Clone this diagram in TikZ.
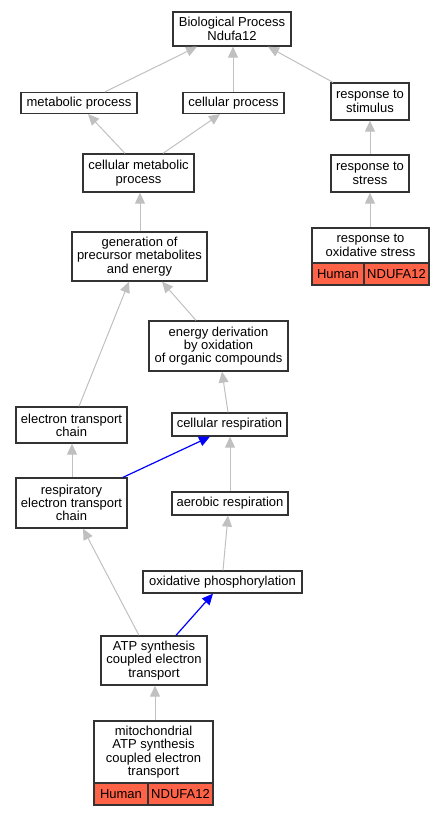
\documentclass[tikz,border=0pt]{standalone}
\usepackage{fontspec}
\setmainfont{Liberation Sans}
\usetikzlibrary{arrows.meta,calc}
\definecolor{tomatoc}{HTML}{FF6347}
\definecolor{edgegray}{HTML}{C0C0C0}
\begin{document}
\begin{tikzpicture}[x=1pt,y=-1pt,
  box/.style={draw=black!80,line width=1.3pt,fill=white,inner sep=0pt,align=center,
    font=\fontsize{13}{13.3}\selectfont},
  cell/.style={box,fill=tomatoc},
  isa/.style={draw=edgegray,line width=1pt,-{Triangle[length=11pt,width=10pt]}},
  part/.style={draw=blue,line width=1.2pt,-{Triangle[length=11pt,width=10pt]}}]
\useasboundingbox (0,0) rectangle (445,816);
\node[box,minimum width=118pt,minimum height=34pt] (bp) at (232,29) {Biological Process\\Ndufa12};
\node[box,minimum width=116pt,minimum height=21pt] (met) at (79,103) {metabolic process};
\node[box,minimum width=101pt,minimum height=21pt] (cp) at (233.5,103) {cellular process};
\node[box,minimum width=78pt,minimum height=37pt] (rs) at (370,101.5) {response to\\stimulus};
\node[box,minimum width=111pt,minimum height=38pt] (cmp) at (138.5,173) {cellular metabolic\\process};
\node[box,minimum width=78pt,minimum height=37pt] (rst) at (370,173.5) {response to\\stress};
\node[box,minimum width=135pt,minimum height=49pt] (gen) at (139.5,256.5) {generation of\\precursor metabolites\\and energy};
\node[box,minimum width=117pt,minimum height=35pt] (ros) at (370.5,245.5) {response to\\oxidative stress};
\node[cell,minimum width=52pt,minimum height=22pt] (rosh) at (338,274) {Human};
\node[cell,minimum width=65pt,minimum height=22pt] (rosg) at (396.5,274) {NDUFA12};
\node[box,minimum width=139pt,minimum height=50pt] (ed) at (218.5,346) {energy derivation\\by oxidation\\of organic compounds};
\node[box,minimum width=111pt,minimum height=36pt] (etc) at (71.5,425) {electron transport\\chain};
\node[box,minimum width=115pt,minimum height=23pt] (cr) at (229.5,424.5) {cellular respiration};
\node[box,minimum width=111pt,minimum height=50pt] (retc) at (71.5,503) {respiratory\\electron transport\\chain};
\node[box,minimum width=116pt,minimum height=23pt] (ar) at (230,503.5) {aerobic respiration};
\node[box,minimum width=159pt,minimum height=22pt] (op) at (222.5,582) {oxidative phosphorylation};
\node[box,minimum width=106pt,minimum height=49pt] (atp) at (154,660.5) {ATP synthesis\\coupled electron\\transport};
\node[box,minimum width=119pt,minimum height=62pt] (mito) at (153.5,752) {mitochondrial\\ATP synthesis\\coupled electron\\transport};
\node[cell,minimum width=54pt,minimum height=22pt] (mitoh) at (121,794) {Human};
\node[cell,minimum width=65pt,minimum height=22pt] (mitog) at (180.5,794) {NDUFA12};

\draw[isa] ([xshift=26pt]met.north) -- ([xshift=-35pt]bp.south);
\draw[isa] ([xshift=-0.5pt]cp.north) -- ([xshift=1pt]bp.south);
\draw[isa] ([xshift=-37pt]rs.north) -- ([xshift=36pt]bp.south);
\draw[isa] ([xshift=-13.5pt]cmp.north) -- ([xshift=9pt]met.south);
\draw[isa] ([xshift=24.5pt]cmp.north) -- ([xshift=-13.5pt]cp.south);
\draw[isa] (rst.north) -- (rs.south);
\draw[isa] ([xshift=-0.5pt]ros.north) -- (rst.south);
\draw[isa] ([xshift=0.5pt]gen.north) -- ([xshift=1.5pt]cmp.south);
\draw[isa] ([xshift=-22.5pt]ed.north) -- ([xshift=22.5pt]gen.south);
\draw[isa] ([xshift=7.5pt]etc.north) -- ([xshift=-10.5pt]gen.south);
\draw[isa] ([xshift=-1.5pt]cr.north) -- ([xshift=3.5pt]ed.south);
\draw[isa] ([xshift=0.5pt]retc.north) -- ([xshift=0.5pt]etc.south);
\draw[part] ([xshift=51.5pt]retc.north) -- ([xshift=-19.5pt]cr.south);
\draw[isa] (ar.north) -- ([xshift=0.5pt]cr.south);
\draw[isa] ([xshift=0.5pt]op.north) -- ([xshift=-2pt]ar.south);
\draw[isa] ([xshift=-15pt]atp.north) -- ([xshift=11.5pt]retc.south);
\draw[part] ([xshift=22pt]atp.north) -- ([xshift=-9.5pt]op.south);
\draw[isa] ([xshift=1.5pt]mito.north) -- ([xshift=1pt]atp.south);
\end{tikzpicture}
\end{document}
